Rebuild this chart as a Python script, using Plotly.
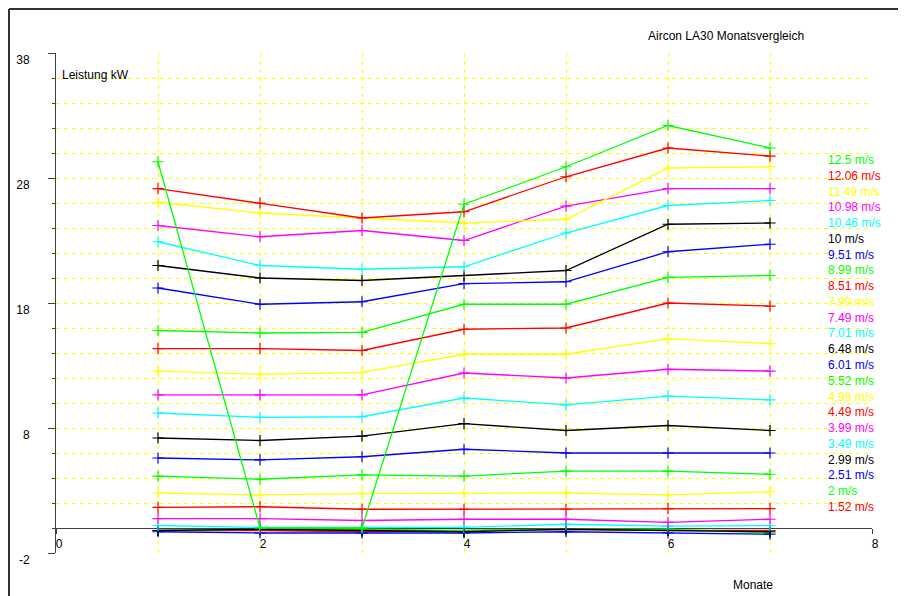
import plotly.graph_objects as go

months = [1, 2, 3, 4, 5, 6, 7]

speed_labels = ["12.5 m/s", "12.06 m/s", "11.49 m/s", "10.98 m/s", "10.46 m/s", "10 m/s",
                "9.51 m/s", "8.99 m/s", "8.51 m/s", "7.99 m/s", "7.49 m/s", "7.01 m/s",
                "6.48 m/s", "6.01 m/s", "5.52 m/s", "4.98 m/s", "4.49 m/s", "3.99 m/s",
                "3.49 m/s", "2.99 m/s", "2.51 m/s", "2 m/s", "1.52 m/s"]

series_colors = ["#00ff00", "#ff0000", "#ffff00", "#ff00ff", "#00ffff", "#000000",
                 "#0000ff", "#00ff00", "#ff0000", "#ffff00", "#ff00ff", "#00ffff",
                 "#000000", "#0000ff", "#00ff00", "#ffff00", "#ff0000", "#ff00ff",
                 "#00ffff", "#000000", "#0000ff", "#00ff00", "#ff0000"]

p_12_50 = [29.3, 0.0, 0.0, 25.9, 28.9, 32.2, 30.4]
p_12_06 = [27.15, 26.0, 24.8, 25.3, 28.1, 30.4, 29.75]
p_11_49 = [26.06, 25.2, 24.8, 24.4, 24.7, 28.8, 28.9]
p_10_98 = [24.2, 23.3, 23.8, 23.0, 25.75, 27.15, 27.15]
p_10_46 = [22.9, 21.0, 20.7, 20.9, 23.6, 25.8, 26.2]
p_10_00 = [21.0, 20.0, 19.8, 20.2, 20.6, 24.3, 24.4]
p_9_51 = [19.2, 17.9, 18.1, 19.55, 19.7, 22.1, 22.7]
p_8_99 = [15.8, 15.6, 15.65, 17.9, 17.9, 20.05, 20.2]
p_8_51 = [14.35, 14.35, 14.2, 15.9, 16.0, 18.0, 17.75]
p_7_99 = [12.55, 12.3, 12.45, 13.9, 13.9, 15.15, 14.75]
p_7_49 = [10.65, 10.65, 10.65, 12.4, 12.0, 12.7, 12.55]
p_7_01 = [9.2, 8.85, 8.9, 10.4, 9.85, 10.55, 10.25]
p_6_48 = [7.2, 7.0, 7.35, 8.35, 7.8, 8.2, 7.8]
p_6_01 = [5.6, 5.45, 5.7, 6.3, 6.0, 6.0, 6.0]
p_5_52 = [4.15, 3.9, 4.25, 4.15, 4.55, 4.55, 4.3]
p_4_98 = [2.8, 2.65, 2.75, 2.75, 2.8, 2.65, 2.9]
p_4_49 = [1.65, 1.7, 1.5, 1.5, 1.5, 1.55, 1.55]
p_3_99 = [0.75, 0.75, 0.6, 0.7, 0.7, 0.45, 0.7]
p_3_49 = [0.2, 0.05, 0.05, 0.05, 0.3, 0.15, 0.2]
p_2_99 = [-0.2, -0.1, -0.2, -0.3, -0.1, -0.2, -0.3]
p_2_51 = [-0.3, -0.4, -0.4, -0.4, -0.3, -0.4, -0.5]
p_2_00 = [-0.2, -0.1, -0.1, -0.2, -0.1, -0.1, -0.4]
p_1_52 = [-0.2, -0.2, -0.3, -0.2, -0.1, -0.2, -0.2]

series_values = [p_12_50, p_12_06, p_11_49, p_10_98, p_10_46, p_10_00, p_9_51,
                 p_8_99, p_8_51, p_7_99, p_7_49, p_7_01, p_6_48, p_6_01, p_5_52,
                 p_4_98, p_4_49, p_3_99, p_3_49, p_2_99, p_2_51, p_2_00, p_1_52]

y_tick_vals = [-2, 8, 18, 28, 38]
x_tick_vals = [0, 2, 4, 6, 8]

# page has an 8px body margin; figure is sized to fill the rest of the window
OFF = 8
W, H = 898, 588
PLOT_LEFT, PLOT_TOP = 56, 53          # page pixels
pw, ph = 816, 500
L, T = PLOT_LEFT - OFF, PLOT_TOP - OFF
R, B = W - L - pw, H - T - ph

def px_x(px):
    return (px - PLOT_LEFT) / pw

def px_y(py):
    return (PLOT_TOP + ph - py) / ph

fig = go.Figure()
for name, col, vals in reversed(list(zip(speed_labels, series_colors, series_values))):
    fig.add_trace(go.Scatter(
        x=months, y=vals, mode="lines+markers", name=name,
        line=dict(color=col, width=1.3),
        marker=dict(symbol="cross-thin", size=8, line=dict(color=col, width=1.2), color=col),
        showlegend=False,
    ))

grid = dict(gridcolor="#ffff00", griddash="4px,4px", gridwidth=1)
font = "Liberation Sans, Arial, sans-serif"

fig.update_layout(
    width=W, height=H,
    margin=dict(l=L, r=R, t=T, b=B, autoexpand=False),
    paper_bgcolor="white", plot_bgcolor="white",
    font=dict(family=font, size=12, color="black"),
    xaxis=dict(
        range=[0, 8], tickvals=x_tick_vals, ticktext=[str(v) for v in x_tick_vals],
        showgrid=True, **grid,
        minor=dict(dtick=1, tick0=0, showgrid=True, **grid),
        anchor="free", position=2 / 40,
        showline=False, automargin=False,
        ticks="outside", ticklen=5, tickcolor="#404040",
        ticklabelshift=3, ticklabelstandoff=0,
        zeroline=False, fixedrange=True,
        tickfont=dict(size=12, family=font, color="black"),
    ),
    yaxis=dict(
        range=[-2, 38], tickvals=y_tick_vals, ticktext=[str(v) for v in y_tick_vals],
        showgrid=True, **grid,
        minor=dict(dtick=2, tick0=-2, showgrid=True, ticks="outside", ticklen=3,
                   tickcolor="#404040", **grid),
        showline=True, linecolor="#404040", linewidth=1, automargin=False,
        ticks="outside", ticklen=7, tickcolor="#404040",
        ticklabelstandoff=16, ticklabelshift=7,
        zeroline=True, zerolinecolor="#404040", zerolinewidth=1,
        fixedrange=True,
        tickfont=dict(size=12, family=font, color="black"),
    ),
)

# window frame (left and top border)
fig.add_shape(type="line", xref="paper", yref="paper", x0=px_x(9), x1=px_x(9),
              y0=px_y(9), y1=px_y(600), line=dict(color="#303030", width=2))
fig.add_shape(type="line", xref="paper", yref="paper", x0=px_x(9), x1=px_x(910),
              y0=px_y(9), y1=px_y(9), line=dict(color="#303030", width=2))

fig.add_annotation(text="Aircon LA30 Monatsvergleich", xref="paper", yref="paper",
                   x=px_x(726), y=px_y(36), showarrow=False, xanchor="center", yanchor="middle",
                   font=dict(size=12, family=font, color="black"))
fig.add_annotation(text="Leistung kW", xref="paper", yref="paper",
                   x=px_x(60), y=px_y(75), showarrow=False, xanchor="left", yanchor="middle",
                   font=dict(size=12, family=font, color="black"))
fig.add_annotation(text="Monate", xref="paper", yref="paper",
                   x=px_x(753), y=px_y(585), showarrow=False, xanchor="center", yanchor="middle",
                   font=dict(size=12, family=font, color="black"))

for i, (name, col) in enumerate(zip(speed_labels, series_colors)):
    fig.add_annotation(text=name, xref="paper", yref="paper",
                       x=px_x(826), y=px_y(160 + i * 15.77), showarrow=False,
                       xanchor="left", yanchor="middle",
                       font=dict(size=12, family=font, color=col))

fig.write_html("out.html")
